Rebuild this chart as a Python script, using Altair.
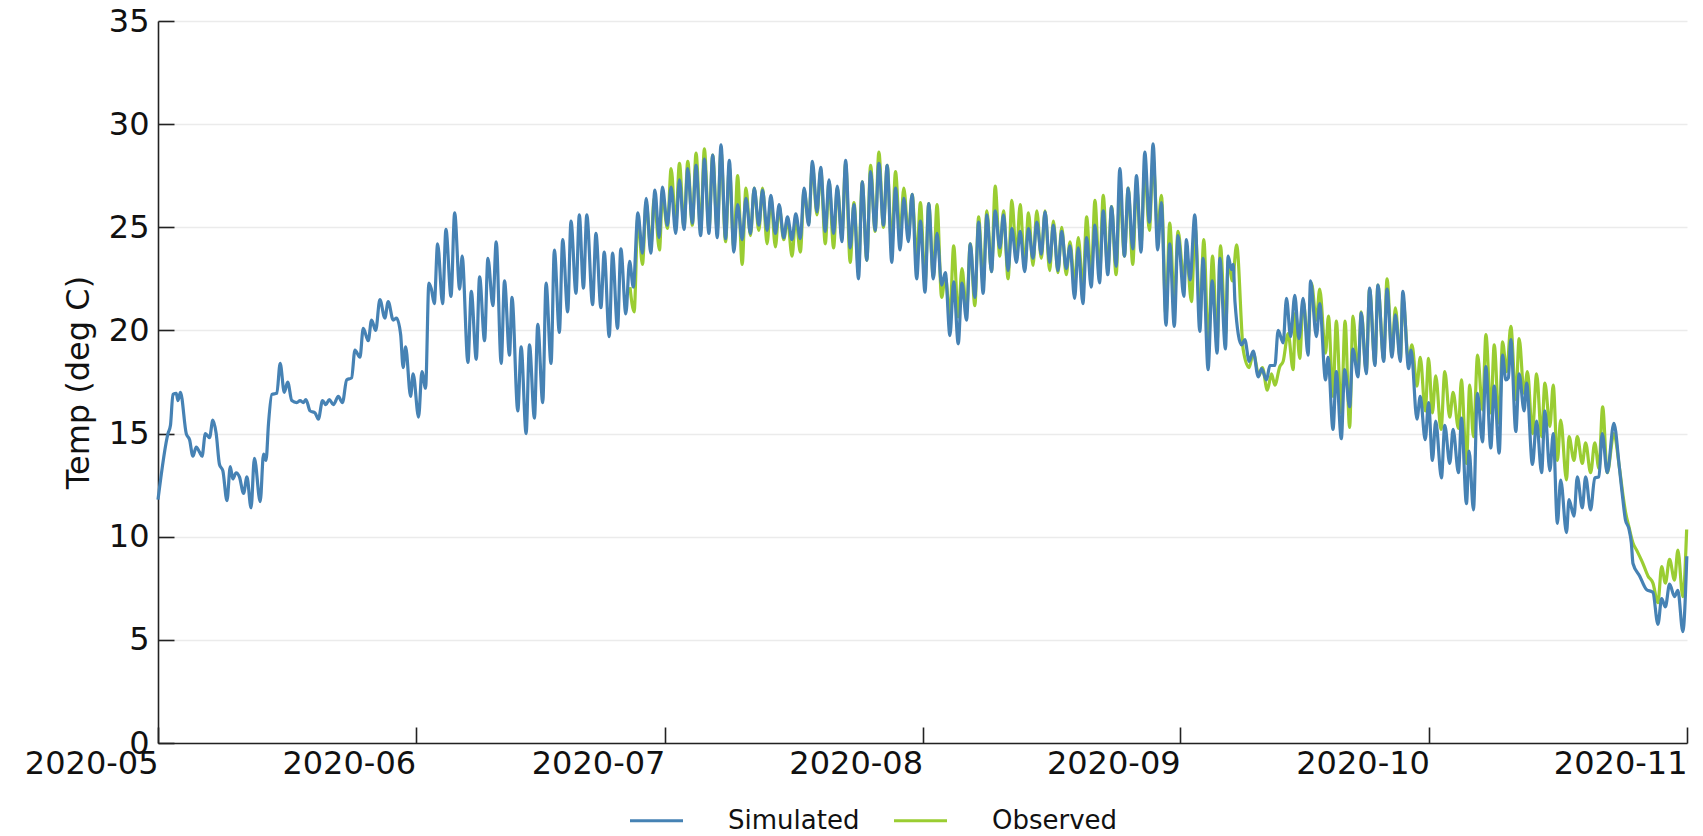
import altair as alt
import pandas as pd

BLUE = "#4682b4"
GREEN = "#9acd32"

# ---------------- data ----------------
# (day offset within the month, temperature)
SIM_MAY = [(0.0, 11.8), (1.2, 15.0), (1.5, 15.4), (1.8, 16.9), (2.2, 16.95), (2.4, 16.6), (2.7, 17.0),
           (3.4, 15.0), (3.8, 14.7), (4.2, 13.9), (4.6, 14.35), (5.0, 14.1), (5.3, 13.9), (5.7, 15.0),
           (6.2, 14.8), (6.6, 15.65), (7.0, 15.0), (7.4, 13.5), (7.8, 13.2), (8.3, 11.75), (8.7, 13.4),
           (9.0, 12.8), (9.4, 13.1), (9.8, 12.9), (10.3, 12.1), (10.7, 12.9), (11.2, 11.4), (11.6, 13.8),
           (12.3, 11.7), (12.7, 14.0), (13.0, 13.7), (13.3, 15.5), (13.7, 16.9), (14.3, 16.95), (14.7, 18.4),
           (15.2, 17.0), (15.6, 17.5), (16.1, 16.6), (16.7, 16.5), (17.1, 16.6), (17.5, 16.5), (17.8, 16.65),
           (18.3, 16.1), (18.9, 16.0), (19.3, 15.7), (19.8, 16.6), (20.2, 16.4), (20.6, 16.65), (21.1, 16.4),
           (21.7, 16.8), (22.2, 16.5), (22.7, 17.6), (23.3, 17.7), (23.7, 19.05), (24.3, 18.7), (24.7, 20.1),
           (25.3, 19.5), (25.7, 20.5), (26.2, 20.0), (26.7, 21.5), (27.3, 20.6), (27.7, 21.4), (28.3, 20.5),
           (28.7, 20.6), (29.2, 19.8), (29.5, 18.2), (29.8, 19.2), (30.4, 16.8), (30.7, 17.9)]

SIM_JUN = [(0.36, 15.8), (0.76, 18.0), (1.2, 17.2), (1.6, 22.3), (1.9, 22.0), (2.25, 21.3), (2.65, 24.2),
           (3.25, 21.3), (3.65, 24.9), (4.26, 21.65), (4.7, 25.7), (5.3, 22.0), (5.6, 23.6), (6.3, 18.45),
           (6.7, 21.9), (7.3, 18.6), (7.7, 22.6), (8.3, 19.5), (8.7, 23.5), (9.3, 21.2), (9.7, 24.3),
           (10.3, 18.4), (10.7, 22.4), (11.3, 18.8), (11.6, 21.6), (12.3, 16.1), (12.7, 19.2), (13.3, 15.0),
           (13.7, 19.3), (14.3, 15.75), (14.7, 20.3), (15.3, 16.5), (15.7, 22.3), (16.3, 18.4), (16.7, 23.9),
           (17.3, 19.9), (17.7, 24.4), (18.3, 20.9), (18.7, 25.3), (19.3, 21.8), (19.7, 25.6), (20.2, 22.05),
           (20.6, 25.6), (21.3, 21.25), (21.7, 24.7), (22.3, 21.1), (22.7, 23.8), (23.3, 19.7), (23.7, 23.75),
           (24.3, 20.1), (24.7, 23.95), (25.3, 20.8), (25.75, 23.35), (26.2, 22.1), (26.75, 25.7),
           (27.3, 23.75), (27.75, 26.4), (28.3, 23.75), (28.8, 26.8), (29.3, 24.5), (29.7, 26.95)]

OBS_JUN = [(25.8, 22.1), (26.3, 20.9), (26.75, 25.5), (27.3, 23.2), (27.75, 26.2), (28.3, 24.0),
           (28.7, 26.4), (29.35, 23.9), (29.7, 26.6)]

# July / August: daily low (early morning) and daily high (evening)
SIM_JUL_LO = [25.1, 24.7, 24.9, 25.2, 24.6, 24.7, 24.5, 24.45, 23.8, 24.4, 24.7, 25.1, 24.85, 24.7, 24.5, 24.4,
              24.45, 25.1, 25.75, 24.8, 24.7, 24.3, 24.0, 22.5, 23.4, 24.85, 25.1, 23.3, 23.9, 24.3, 22.5]
SIM_JUL_HI = [26.95, 27.3, 27.85, 28.0, 28.3, 28.5, 29.0, 28.25, 26.1, 26.4, 26.9, 26.8, 26.55, 26.1, 25.5, 25.65,
              26.9, 28.2, 27.9, 27.3, 27.0, 28.25, 26.1, 27.2, 27.7, 28.1, 28.0, 26.9, 26.4, 26.6, 25.3]
OBS_JUL_LO = [24.95, 25.1, 25.0, 25.1, 24.8, 24.9, 24.9, 24.3, 24.0, 23.2, 24.6, 24.85, 24.2, 24.05, 24.4, 23.6,
              23.8, 25.2, 25.6, 24.2, 24.0, 24.6, 23.3, 23.0, 23.4, 24.8, 25.0, 24.0, 24.6, 24.6, 23.5]
OBS_JUL_HI = [27.85, 28.1, 28.2, 28.6, 28.8, 28.5, 28.7, 27.9, 27.5, 26.9, 26.9, 26.9, 26.4, 26.0, 25.4, 25.5,
              26.8, 28.0, 27.8, 27.2, 26.9, 28.1, 26.2, 27.2, 28.0, 28.65, 28.0, 27.7, 26.9, 26.6, 26.2]

SIM_AUG_LO = [21.85, 22.5, 22.2, 19.75, 19.35, 20.5, 21.6, 21.8, 22.85, 24.0, 22.9, 23.3, 22.85, 23.5, 23.7, 23.3,
              22.9, 23.0, 21.55, 21.3, 22.1, 22.3, 22.7, 23.1, 23.6, 23.95, 23.8, 25.25, 23.9, 20.25, 20.2]
SIM_AUG_HI = [26.15, 24.7, 22.8, 22.35, 22.3, 24.2, 25.25, 25.6, 25.8, 25.6, 24.95, 24.8, 24.95, 25.25, 25.75, 25.1,
              24.8, 24.1, 24.0, 24.5, 25.1, 25.8, 26.0, 27.85, 26.9, 27.5, 28.65, 29.05, 26.2, 24.2, 24.6]
OBS_AUG_LO = [22.3, 22.6, 21.6, 20.7, 20.65, 20.9, 21.2, 22.3, 22.85, 23.6, 22.5, 23.6, 23.0, 23.15, 23.5, 22.9,
              22.8, 22.7, 22.2, 22.0, 22.5, 22.6, 22.9, 22.7, 23.6, 23.2, 24.2, 24.85, 24.8, 20.7, 21.4]
OBS_AUG_HI = [26.15, 26.1, 22.6, 24.1, 23.0, 24.2, 25.5, 25.8, 27.0, 25.8, 26.3, 26.1, 25.7, 25.8, 25.8, 25.3,
              25.0, 24.3, 24.5, 25.5, 26.3, 26.55, 26.0, 26.8, 26.9, 27.0, 27.8, 28.3, 26.55, 25.2, 24.8]

SIM_SEP = [(0.45, 21.65), (0.76, 24.4), (1.2, 22.45), (1.77, 25.6), (2.37, 19.95), (2.77, 23.5), (3.37, 18.1),
           (3.86, 22.4), (4.46, 18.9), (4.78, 23.5), (5.46, 19.1), (5.78, 23.6), (6.18, 22.95), (6.4, 23.2),
           (6.6, 21.4), (7.39, 19.3), (7.79, 19.55), (8.31, 18.5), (8.8, 19.0), (9.4, 17.75), (9.8, 18.15),
           (10.4, 17.6), (10.8, 18.3), (11.4, 18.3), (11.8, 20.0), (12.4, 19.4), (12.8, 21.55), (13.3, 19.7),
           (13.8, 21.7), (14.3, 19.6), (14.8, 21.55), (15.4, 18.8), (15.7, 22.4), (16.4, 19.7), (16.8, 21.3),
           (17.5, 17.6), (17.8, 18.7), (18.4, 15.2), (18.8, 18.0), (19.4, 14.75), (19.8, 18.1), (20.4, 16.3),
           (20.8, 19.1), (21.4, 17.75), (21.8, 20.85), (22.4, 17.9), (22.8, 22.05), (23.45, 18.3), (23.8, 22.2),
           (24.5, 18.5), (24.9, 22.0), (25.5, 18.7), (25.9, 20.75), (26.5, 18.5), (26.8, 21.9), (27.5, 18.15),
           (27.8, 19.05), (28.5, 15.7), (28.9, 16.8), (29.5, 14.7), (29.9, 16.5)]

OBS_SEP = [(0.45, 22.5), (0.76, 23.8), (1.37, 21.4), (1.8, 25.0), (2.4, 20.8), (2.85, 24.4), (3.4, 19.3),
           (3.9, 23.6), (4.46, 19.5), (4.86, 24.1), (5.46, 19.8), (5.8, 23.4), (6.3, 22.4), (6.8, 24.15),
           (7.6, 19.05), (8.3, 18.2), (8.8, 18.9), (9.5, 17.8), (9.9, 18.2), (10.5, 17.1), (11.0, 17.9),
           (11.4, 17.35), (12.0, 18.25), (12.4, 18.5), (13.0, 19.85), (13.6, 18.1), (13.9, 20.85), (14.4, 18.65),
           (14.8, 21.4), (15.4, 19.55), (15.8, 22.3), (16.4, 20.5), (16.8, 22.0), (17.5, 18.9), (17.85, 20.7),
           (18.4, 16.8), (18.8, 20.45), (19.4, 16.0), (19.85, 20.45), (20.4, 15.3), (20.8, 20.7), (21.4, 17.9),
           (21.8, 20.9), (22.4, 18.0), (22.8, 22.0), (23.45, 18.4), (23.8, 22.2), (24.5, 18.6), (24.9, 22.5),
           (25.5, 18.8), (25.9, 21.1), (26.5, 18.6), (26.8, 21.6), (27.5, 18.5), (27.9, 19.3), (28.5, 17.3),
           (28.9, 18.7), (29.5, 16.1), (29.9, 18.65)]

SIM_OCT = [(0.36, 13.7), (0.76, 15.6), (1.45, 12.85), (1.85, 15.4), (2.45, 13.55), (2.85, 15.2), (3.5, 13.1),
           (3.86, 15.75), (4.46, 11.6), (4.78, 14.15), (5.3, 11.3), (5.78, 16.95), (6.39, 14.6), (6.79, 18.25),
           (7.39, 14.3), (7.8, 17.3), (8.4, 14.05), (8.8, 18.8), (9.2, 17.6), (9.5, 17.7), (9.8, 19.55),
           (10.4, 15.1), (10.8, 17.9), (11.4, 16.1), (11.7, 17.45), (12.4, 13.5), (12.9, 15.6), (13.5, 13.1),
           (13.9, 16.1), (14.5, 13.2), (14.9, 15.0), (15.4, 10.65), (15.8, 12.75), (16.5, 10.2), (16.8, 11.8),
           (17.4, 11.0), (17.8, 12.9), (18.4, 11.4), (18.8, 12.9), (19.4, 11.3), (19.9, 12.85), (20.4, 12.9),
           (20.8, 15.0), (21.4, 13.1), (22.2, 15.5), (22.85, 13.4), (23.2, 12.1), (23.6, 10.8), (24.0, 10.4),
           (24.3, 9.7), (24.5, 8.7), (25.3, 8.1), (26.1, 7.45), (26.9, 7.3), (27.5, 5.75), (27.95, 7.0),
           (28.4, 6.6), (28.9, 7.7), (29.5, 7.1), (29.9, 7.4), (30.5, 5.4), (30.98, 9.05)]

OBS_OCT = [(0.36, 16.0), (0.76, 17.8), (1.4, 15.2), (1.85, 18.0), (2.45, 15.8), (2.85, 17.0), (3.5, 15.25),
           (3.85, 17.6), (4.46, 13.55), (4.85, 17.35), (5.3, 14.85), (5.8, 18.8), (6.4, 16.15), (6.8, 19.8),
           (7.4, 16.0), (7.8, 19.3), (8.4, 15.5), (8.8, 19.45), (9.3, 18.0), (9.8, 20.2), (10.4, 16.65),
           (10.8, 19.6), (11.4, 16.95), (11.8, 18.0), (12.4, 15.0), (12.9, 17.9), (13.5, 14.85), (13.9, 17.45),
           (14.5, 15.35), (14.9, 17.35), (15.4, 13.7), (15.8, 15.65), (16.5, 12.75), (16.8, 14.85), (17.4, 13.7),
           (17.8, 14.85), (18.4, 13.55), (18.8, 14.55), (19.4, 13.1), (19.9, 14.55), (20.4, 13.3), (20.85, 16.3),
           (21.4, 13.1), (22.2, 15.0), (22.85, 13.4), (23.3, 12.0), (23.6, 11.2), (24.0, 10.5), (24.5, 9.7),
           (25.0, 9.3), (25.7, 8.7), (26.3, 8.1), (26.9, 7.75), (27.5, 6.8), (27.95, 8.55), (28.4, 7.75),
           (28.9, 8.9), (29.5, 7.9), (29.9, 9.35), (30.5, 7.1), (30.96, 10.35)]

SERIES = ["Simulated", "Observed"]
Y_TICKS = [0, 5, 10, 15, 20, 25, 30, 35]
MONTHS = [5, 6, 7, 8, 9, 10, 11]


def lo_hi(lo, hi, t_lo=0.3, t_hi=0.75):
    out = []
    for i, (a, b) in enumerate(zip(lo, hi)):
        out.append((i + t_lo, a))
        out.append((i + t_hi, b))
    return out


def rows(series, month, pairs):
    start = pd.Timestamp(2020, month, 1)
    return [{"time": (start + pd.Timedelta(days=d)).strftime("%Y-%m-%dT%H:%M:%S"),
             "temp": v, "series": series} for d, v in pairs]


sim_rows = (rows("Simulated", 5, SIM_MAY) + rows("Simulated", 6, SIM_JUN)
            + rows("Simulated", 7, lo_hi(SIM_JUL_LO, SIM_JUL_HI))
            + rows("Simulated", 8, lo_hi(SIM_AUG_LO, SIM_AUG_HI))
            + rows("Simulated", 9, SIM_SEP) + rows("Simulated", 10, SIM_OCT))
obs_rows = (rows("Observed", 6, OBS_JUN)
            + rows("Observed", 7, lo_hi(OBS_JUL_LO, OBS_JUL_HI))
            + rows("Observed", 8, lo_hi(OBS_AUG_LO, OBS_AUG_HI))
            + rows("Observed", 9, OBS_SEP) + rows("Observed", 10, OBS_OCT))

sim_df = pd.DataFrame(sim_rows)
obs_df = pd.DataFrame(obs_rows)

# ---------------- chart ----------------
W, H = 1529, 722
FONT = "DejaVu Sans"
LW = 3.2
x_scale = alt.Scale(domain=[alt.DateTime(year=2020, month=5, date=1),
                            alt.DateTime(year=2020, month=11, date=1)])
y_scale = alt.Scale(domain=[0, 35], nice=False)
month_ticks = [alt.DateTime(year=2020, month=m, date=1) for m in MONTHS]

x_axis = alt.Axis(orient="bottom", values=month_ticks, format="%Y-%m", labelAlign="right",
                  labelBaseline="top", labelPadding=5, labelFontSize=32, labelFont=FONT,
                  labelColor="#111", labelOverlap=False, labelFlush=False, ticks=False, tickSize=0,
                  grid=False, domainColor="#222", domainWidth=1.6, title=None)
y_axis = alt.Axis(orient="left", values=Y_TICKS, labelFontSize=32, labelFont=FONT, labelColor="#111",
                  labelPadding=9, ticks=False, tickSize=0, grid=True, gridColor="#ebebeb", gridWidth=1.6,
                  domainColor="#222", domainWidth=1.6, title="Temp (deg C)", titleFont=FONT,
                  titleFontSize=32, titleFontWeight="normal", titleColor="#111",
                  titleX=-80, titleY=H / 2, titleAlign="center", titleBaseline="middle")

color = alt.Color("series:N", scale=alt.Scale(domain=SERIES, range=[BLUE, GREEN]),
                  legend=alt.Legend(orient="none", legendX=470, legendY=771, direction="horizontal",
                                    title=None, symbolType="stroke", symbolSize=2809,
                                    symbolStrokeWidth=LW, labelFontSize=26, labelFont=FONT,
                                    labelColor="#111", labelOffset=43, columnPadding=27))

enc = dict(x=alt.X("time:T", scale=x_scale, axis=x_axis),
           y=alt.Y("temp:Q", scale=y_scale, axis=y_axis),
           color=color)

obs_line = alt.Chart(obs_df).mark_line(strokeWidth=LW, interpolate="monotone").encode(**enc)
sim_line = alt.Chart(sim_df).mark_line(strokeWidth=LW, interpolate="monotone").encode(**enc)
lines = alt.layer(obs_line, sim_line)

x_tick_axis = alt.Axis(orient="bottom", values=month_ticks, labels=False, domain=False, grid=False,
                       ticks=True, tickSize=16, tickWidth=1.6, tickColor="#222", offset=-16, title=None)
y_tick_axis = alt.Axis(orient="left", values=Y_TICKS, labels=False, domain=False, grid=False,
                       ticks=True, tickSize=16, tickWidth=1.6, tickColor="#222", offset=-16, title=None)
tick_carrier = alt.Chart(sim_df).mark_line(opacity=0).encode(
    x=alt.X("time:T", scale=x_scale, axis=x_tick_axis),
    y=alt.Y("temp:Q", scale=y_scale, axis=y_tick_axis),
)

chart = (
    alt.layer(lines, tick_carrier)
    .resolve_axis(x="independent", y="independent")
    .properties(width=W, height=H, background="white",
                padding={"left": 150, "top": 13, "right": 8, "bottom": 92},
                autosize=alt.AutoSizeParams(type="none"))
    .configure_view(stroke=None)
)

chart.save("out.html", embed_options={"renderer": "svg", "actions": False})
